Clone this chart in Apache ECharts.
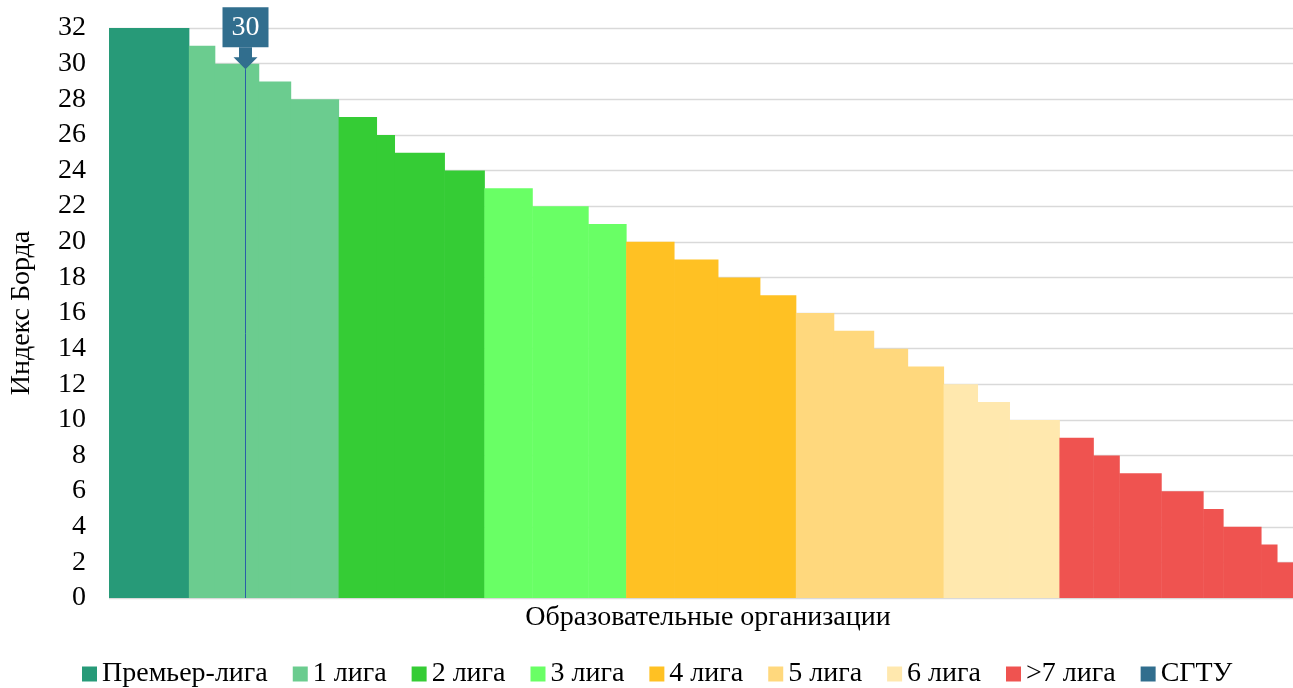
<!DOCTYPE html>
<html>
<head>
<meta charset="utf-8">
<script src="https://cdn.jsdelivr.net/npm/echarts@6/dist/echarts.min.js"></script>
<style>
html,body{margin:0;padding:0;background:#fff;}
#chart{width:1293px;height:688px;}
</style>
</head>
<body>
<div id="chart"></div>
<script>
// League names (legend order)
const leagueNames = ['Премьер-лига', '1 лига', '2 лига', '3 лига', '4 лига', '5 лига', '6 лига', '>7 лига'];
const leagueColors = ['#279A78', '#6BCC8F', '#35CC35', '#69FF65', '#FFC123', '#FFD87D', '#FFE8AE', '#EF5350'];
// Borda index value of each step, per league
const leagueValues = [
  [32],
  [31, 30, 29, 28],
  [27, 26, 25, 24],
  [23, 22, 21],
  [20, 19, 18, 17],
  [16, 15, 14, 13],
  [12, 11, 10],
  [9, 8, 7, 6, 5, 4, 3, 2]
];
// Number of organizations on each step (estimated from step widths)
const leagueCounts = [
  [40],
  [13, 22, 16, 24],
  [19, 9, 25, 20],
  [24, 28, 19],
  [24, 22, 21, 18],
  [19, 20, 17, 18],
  [17, 16, 25],
  [17, 13, 21, 21, 10, 19, 8, 8]
];
// Highlighted university
const sgtuName = 'СГТУ';
const sgtuPosition = 68;
const sgtuValue = 30;
const sgtuColor = '#316E8E';
// Axis
const yTicks = [0, 2, 4, 6, 8, 10, 12, 14, 16, 18, 20, 22, 24, 26, 28, 30, 32];
const yName = 'Индекс Борда';
const xName = 'Образовательные организации';

const FONT = 'Liberation Serif';
const FS = 28;
const totalOrgs = leagueCounts.flat().reduce((a, b) => a + b, 0);

const series = [];
let cursor = 0;
leagueNames.forEach((name, i) => {
  const data = [];
  leagueValues[i].forEach((v, j) => {
    const start = cursor;
    cursor += leagueCounts[i][j];
    data.push([start, cursor, v]);
  });
  series.push({
    name: name,
    type: 'custom',
    itemStyle: { color: leagueColors[i] },
    encode: { x: [0, 1], y: 2 },
    data: data,
    renderItem: function (params, api) {
      const p0 = api.coord([api.value(0), api.value(2)]);
      const p1 = api.coord([api.value(1), 0]);
      return {
        type: 'rect',
        shape: { x: p0[0], y: p0[1], width: p1[0] - p0[0] + 0.5, height: p1[1] - p0[1] },
        style: { fill: api.visual('color') }
      };
    }
  });
});

series.push({
  name: sgtuName,
  type: 'custom',
  itemStyle: { color: sgtuColor },
  encode: { x: 0, y: 1 },
  data: [[sgtuPosition, sgtuValue]],
  z: 10,
  renderItem: function (params, api) {
    const p = api.coord([api.value(0), api.value(1)]);
    const base = api.coord([api.value(0), 0]);
    const x = Math.round(p[0]) + 0.5;
    const tip = p[1] + 5.5;
    const headTop = tip - 12;
    const boxBottom = headTop - 10;
    const boxTop = boxBottom - 40;
    const col = api.visual('color');
    return {
      type: 'group',
      children: [
        { type: 'line', shape: { x1: x, y1: tip, x2: x, y2: base[1] }, style: { stroke: '#2A5FA8', lineWidth: 1 } },
        { type: 'polygon', shape: { points: [
            [x - 6.5, boxBottom], [x + 6.5, boxBottom], [x + 6.5, headTop], [x + 12, headTop],
            [x, tip], [x - 12, headTop], [x - 6.5, headTop]
          ] }, style: { fill: col } },
        { type: 'rect', shape: { x: x - 23, y: boxTop, width: 46, height: 40 }, style: { fill: col } },
        { type: 'text', style: { text: String(api.value(1)), x: x, y: boxTop + 21, align: 'center', verticalAlign: 'middle',
            fill: '#fff', fontSize: FS, fontFamily: FONT } }
      ]
    };
  }
});

const chart = echarts.init(document.getElementById('chart'));
chart.setOption({
  animation: false,
  backgroundColor: '#fff',
  textStyle: { fontFamily: FONT },
  grid: { left: 108, right: 0, top: 28, bottom: 90, containLabel: false },
  legend: {
    left: 77, top: 655,
    icon: 'rect', itemWidth: 15, itemHeight: 15, itemGap: 25,
    textStyle: { fontSize: FS, color: '#000', fontFamily: FONT },
    data: leagueNames.concat([sgtuName])
  },
  xAxis: {
    type: 'value', min: 0, max: totalOrgs,
    name: xName, nameLocation: 'middle', nameGap: 6,
    nameTextStyle: { fontSize: FS, color: '#000', fontFamily: FONT, padding: [0, 0, 0, 14] },
    axisLine: { show: false }, axisTick: { show: false }, axisLabel: { show: false }, splitLine: { show: false }
  },
  yAxis: {
    type: 'value', min: yTicks[0], max: yTicks[yTicks.length - 1], interval: yTicks[1] - yTicks[0],
    name: yName, nameLocation: 'middle', nameGap: 73,
    nameTextStyle: { fontSize: FS, color: '#000', fontFamily: FONT },
    axisLine: { show: false }, axisTick: { show: false },
    axisLabel: { fontSize: FS, color: '#000', margin: 23, fontFamily: FONT },
    splitLine: { lineStyle: { color: '#D9D9D9', width: 1.3 } }
  },
  series: series
});
</script>
</body>
</html>
